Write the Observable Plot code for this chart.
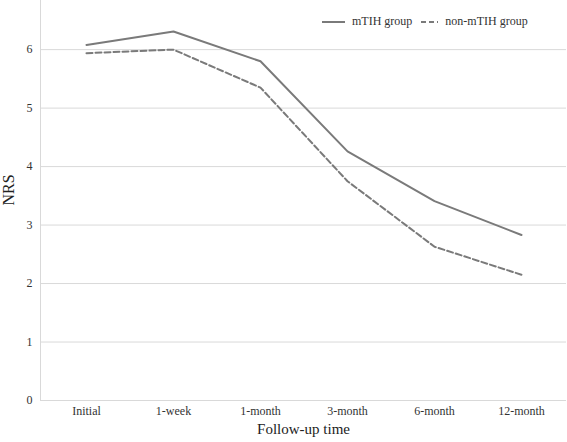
<!DOCTYPE html>
<html>
<head>
<meta charset="utf-8">
<script src="https://cdn.jsdelivr.net/npm/d3@7"></script>
<script src="https://cdn.jsdelivr.net/npm/@observablehq/plot@0.6"></script>
<style>
  html, body { margin: 0; padding: 0; background: #fff; }
  #wrap { position: relative; width: 567px; height: 442px; font-family: "Liberation Serif", "Times New Roman", serif; }
  #legend { position: absolute; left: 322px; top: 14px; font-size: 12px; color: #333; display: flex; align-items: center; white-space: nowrap; }
  #legend svg { margin-right: 7px; }
  #legend span { margin-right: 9px; }
</style>
</head>
<body>
<div id="wrap">
  <div id="chart"></div>
  <div id="legend"></div>
</div>
<script>
const categories = ["Initial", "1-week", "1-month", "3-month", "6-month", "12-month"];
const seriesNames = ["mTIH group", "non-mTIH group"];
const mTIH = [6.08, 6.31, 5.80, 4.26, 3.41, 2.83];
const nonMTIH = [5.94, 6.00, 5.35, 3.75, 2.63, 2.15];
const yTicks = [0, 1, 2, 3, 4, 5, 6];

const rows = [];
categories.forEach((c, i) => {
  rows.push({time: c, nrs: mTIH[i], group: seriesNames[0]});
  rows.push({time: c, nrs: nonMTIH[i], group: seriesNames[1]});
});

const lineColor = "#7a7a7a";
const grid = "#d9d9d9";
const serif = '"Liberation Serif", "Times New Roman", serif';

const chart = Plot.plot({
  width: 567,
  height: 442,
  marginLeft: 40,
  marginRight: 1,
  marginTop: 0,
  marginBottom: 42,
  style: {fontFamily: serif, fontSize: "12px", color: "#333", background: "#fff"},
  x: {type: "point", domain: categories, padding: 0.5, label: null},
  y: {domain: [0, 6.84], ticks: yTicks, label: null},
  marks: [
    Plot.gridY(yTicks, {stroke: grid, strokeOpacity: 1, strokeWidth: 1}),
    Plot.frame({anchor: "left", stroke: grid, strokeOpacity: 1}),
    Plot.axisY(yTicks, {tickSize: 0, tickPadding: 8, fontSize: 12, fontFamily: serif, fill: "#333", label: null, tickFormat: d3.format("d")}),
    Plot.axisX({tickSize: 0, tickPadding: 6, fontSize: 12, fontFamily: serif, fill: "#333", label: null}),
    Plot.line(rows.filter(d => d.group === seriesNames[0]), {x: "time", y: "nrs", stroke: lineColor, strokeWidth: 2}),
    Plot.line(rows.filter(d => d.group === seriesNames[1]), {x: "time", y: "nrs", stroke: lineColor, strokeWidth: 2, strokeDasharray: "6,3"}),
    Plot.text(["Follow-up time"], {frameAnchor: "bottom", dy: 33, fontSize: 15, fontFamily: serif, fill: "#222"}),
    Plot.text(["NRS"], {frameAnchor: "left", dx: -32, dy: 5, rotate: -90, fontSize: 16, fontFamily: serif, fill: "#222"})
  ]
});
document.getElementById("chart").appendChild(chart);

const legend = document.getElementById("legend");
seriesNames.forEach((name, i) => {
  const w = i === 0 ? 23 : 17;
  const s = document.createElementNS("http://www.w3.org/2000/svg", "svg");
  s.setAttribute("width", w); s.setAttribute("height", 6);
  const l = document.createElementNS("http://www.w3.org/2000/svg", "line");
  l.setAttribute("x1", 0); l.setAttribute("x2", w); l.setAttribute("y1", 3); l.setAttribute("y2", 3);
  l.setAttribute("stroke", lineColor); l.setAttribute("stroke-width", 2);
  if (i === 1) l.setAttribute("stroke-dasharray", "5,3");
  s.appendChild(l);
  const t = document.createElement("span");
  t.textContent = name;
  legend.appendChild(s); legend.appendChild(t);
});
</script>
</body>
</html>
